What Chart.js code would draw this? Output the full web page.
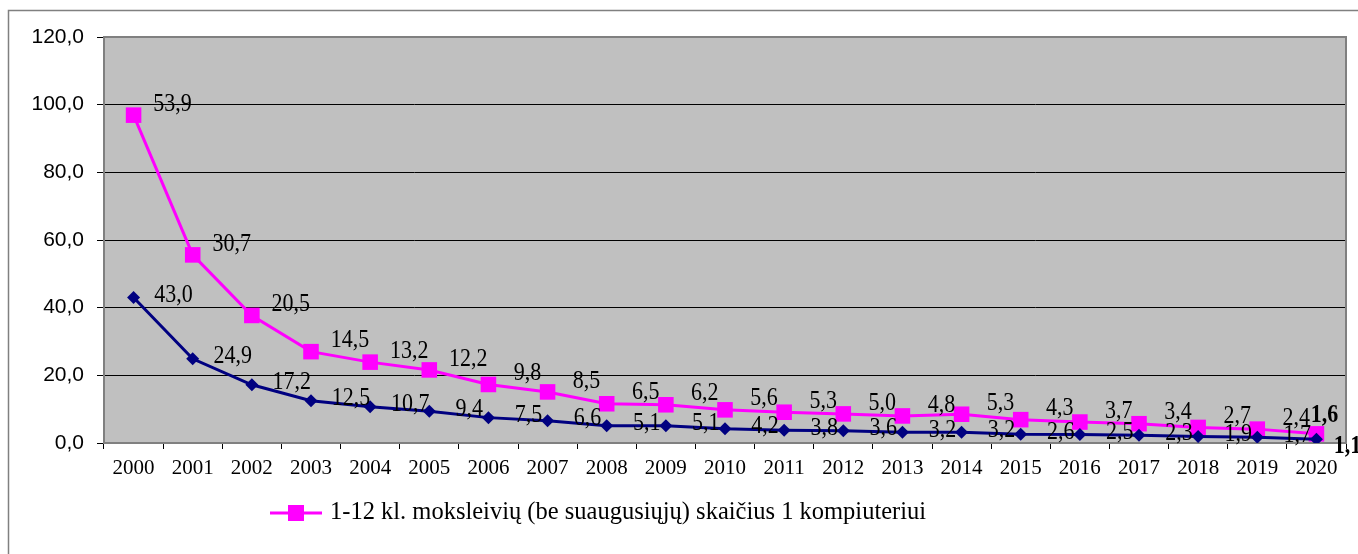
<!DOCTYPE html>
<html>
<head>
<meta charset="utf-8">
<title>Moksleivių skaičius 1 kompiuteriui</title>
<script src="https://cdn.jsdelivr.net/npm/chart.js@4.4.1/dist/chart.umd.min.js"></script>
<style>
  html, body { margin: 0; padding: 0; background: #fff; }
  canvas { display: block; }
</style>
</head>
<body>
<canvas id="myChart" width="1358" height="554"></canvas>
<script>
/*******************************
* DATA
********************************/
var years = ['2000', '2001', '2002', '2003', '2004', '2005', '2006', '2007', '2008', '2009', '2010',
             '2011', '2012', '2013', '2014', '2015', '2016', '2017', '2018', '2019', '2020'];

// lower (navy) series
var allPupils = [43.0, 24.9, 17.2, 12.5, 10.7, 9.4, 7.5, 6.6, 5.1, 5.1, 4.2,
                 3.8, 3.6, 3.2, 3.2, 2.6, 2.5, 2.3, 1.9, 1.7, 1.1];

// upper (magenta) series, stacked on top of the navy one
var schoolPupils = [53.9, 30.7, 20.5, 14.5, 13.2, 12.2, 9.8, 8.5, 6.5, 6.2, 5.6,
                    5.3, 5.0, 4.8, 5.3, 4.3, 3.7, 3.4, 2.7, 2.4, 1.6];

var yTicks = [0, 20, 40, 60, 80, 100, 120];

var legendText = '1-12 kl. moksleivių (be suaugusiųjų) skaičius 1 kompiuteriui';


(function(){

  window.addEventListener('load', function() {
    app.init();
  });

  var NAVY = '#000080';
  var PINK = '#FF00FF';
  var SERIF = '"Liberation Serif", "Times New Roman", serif';
  var SANS = '"Liberation Sans", Arial, sans-serif';

  function fmt(v) {
    return Number(v).toFixed(1).replace('.', ',');
  }

  var app = {

    init: function() {
      app.chart();
    },

    /*******************************
    * PLUGINS
    ********************************/

    // gray plot area + outer frame
    frame: {
      id: 'frame',
      beforeDraw: function(chart) {
        var c = chart.ctx, a = chart.chartArea;
        c.save();
        c.fillStyle = '#C0C0C0';
        c.fillRect(a.left, a.top, a.right - a.left, a.bottom - a.top);
        c.strokeStyle = '#808080';
        c.lineWidth = 1.5;
        c.strokeRect(8.5, 10.5, chart.width + 20, chart.height + 20);
        c.restore();
      },
      beforeDatasetsDraw: function(chart) {
        var c = chart.ctx, a = chart.chartArea;
        c.save();
        c.strokeStyle = '#808080';
        c.lineWidth = 2;
        c.strokeRect(a.left, a.top, a.right - a.left, a.bottom - a.top);
        c.restore();
      }
    },

    // value labels to the right of each point (text a little taller than wide, like the original)
    valueLabels: {
      id: 'valueLabels',
      afterDatasetsDraw: function(chart) {
        var c = chart.ctx;
        chart.data.datasets.forEach(function(ds, di) {
          var meta = chart.getDatasetMeta(di);
          meta.data.forEach(function(pt, i) {
            var last = i === meta.data.length - 1;
            var o = last ? ds.lastOffset : ds.labelOffset;
            c.save();
            c.fillStyle = '#000';
            c.textAlign = 'center';
            c.textBaseline = 'middle';
            c.font = (last ? 'bold ' : '') + '22px ' + SERIF;
            c.translate(pt.x + o.dx, pt.y + o.dy);
            c.scale(1, 1.15);
            c.fillText(fmt(ds.data[i]), 0, 0);
            c.restore();
          });
        });
      }
    },

    // legend: line with square marker + text
    legendBox: {
      id: 'legendBox',
      afterDraw: function(chart) {
        var c = chart.ctx, a = chart.chartArea;
        var x = a.left + 166, y = 513;
        c.save();
        c.strokeStyle = PINK;
        c.lineWidth = 3;
        c.beginPath();
        c.moveTo(x, y);
        c.lineTo(x + 52, y);
        c.stroke();
        c.fillStyle = PINK;
        c.fillRect(x + 26 - 8, y - 8, 16, 16);
        c.fillStyle = '#000';
        c.font = '24.5px ' + SERIF;
        c.textAlign = 'left';
        c.textBaseline = 'middle';
        c.fillText(legendText, x + 60, y);
        c.restore();
      }
    },

    /*******************************
    * CHART
    ********************************/
    chart: function() {
      var ctx = document.getElementById('myChart');

      new Chart(ctx, {
        type: 'line',
        data: {
          labels: years,
          datasets: [
            {
              label: 'viso',
              data: allPupils,
              borderColor: NAVY,
              backgroundColor: NAVY,
              borderWidth: 3,
              pointStyle: 'rectRot',
              pointRadius: 6.5,
              pointBorderWidth: 0,
              fill: false,
              tension: 0,
              labelOffset: { dx: 40, dy: -2 },
              lastOffset: { dx: 31, dy: 7 }
            },
            {
              label: legendText,
              data: schoolPupils,
              borderColor: PINK,
              backgroundColor: PINK,
              borderWidth: 3,
              pointStyle: 'rect',
              pointRadius: 11,
              pointBorderWidth: 0,
              fill: false,
              tension: 0,
              labelOffset: { dx: 39, dy: -11 },
              lastOffset: { dx: 8, dy: -18 }
            }
          ]
        },
        options: {
          responsive: false,
          animation: false,
          layout: { padding: { top: 37, right: 12, left: 0, bottom: 0 } },
          plugins: {
            legend: { display: false },
            tooltip: { enabled: false }
          },
          scales: {
            x: {
              offset: true,
              grid: { offset: true, drawOnChartArea: false, color: '#000', tickLength: 6 },
              border: { display: false },
              ticks: {
                font: { family: SERIF, size: 21 },
                color: '#000',
                padding: 7,
                maxRotation: 0,
                autoSkip: false
              },
              afterFit: function(s) { s.height = 111; }
            },
            y: {
              stacked: true,
              min: 0,
              max: 120,
              afterBuildTicks: function(s) {
                s.ticks = yTicks.map(function(v) { return { value: v }; });
              },
              ticks: {
                callback: function(v) { return fmt(v); },
                font: { family: SANS, size: 21 },
                color: '#000',
                padding: 13
              },
              grid: { color: '#000', tickLength: 7 },
              border: { display: false },
              afterFit: function(s) { s.width = 104; }
            }
          }
        },
        plugins: [app.frame, app.valueLabels, app.legendBox]
      });
    }
  };

})();
</script>
</body>
</html>
